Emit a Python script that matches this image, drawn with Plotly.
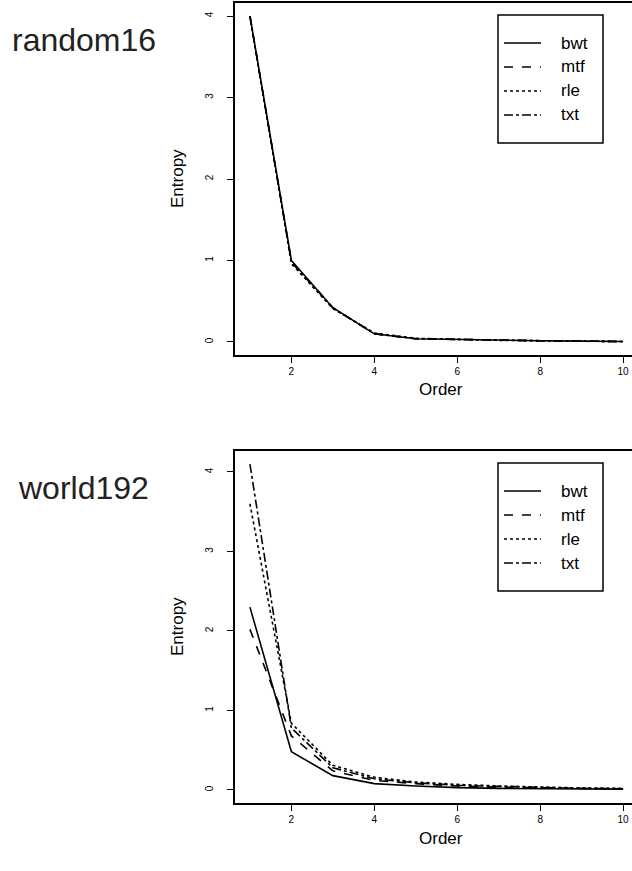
import plotly.graph_objects as go

orders = [1, 2, 3, 4, 5, 6, 7, 8, 9, 10]
series_names = ["bwt", "mtf", "rle", "txt"]

# random16
r16_bwt = [4.00, 1.00, 0.42, 0.10, 0.040, 0.030, 0.020, 0.015, 0.010, 0.005]
r16_mtf = [4.00, 0.99, 0.42, 0.10, 0.040, 0.030, 0.020, 0.015, 0.010, 0.005]
r16_rle = [4.00, 0.96, 0.41, 0.11, 0.045, 0.030, 0.020, 0.015, 0.010, 0.005]
r16_txt = [4.00, 0.98, 0.42, 0.10, 0.040, 0.030, 0.020, 0.015, 0.010, 0.005]

# world192
w192_bwt = [2.30, 0.48, 0.18, 0.08, 0.050, 0.030, 0.020, 0.015, 0.010, 0.010]
w192_mtf = [2.02, 0.68, 0.24, 0.12, 0.080, 0.050, 0.035, 0.025, 0.020, 0.015]
w192_rle = [3.60, 0.84, 0.31, 0.16, 0.100, 0.070, 0.050, 0.035, 0.025, 0.020]
w192_txt = [4.10, 0.78, 0.28, 0.14, 0.090, 0.060, 0.045, 0.030, 0.020, 0.015]

panel_titles = ["random16", "world192"]
x_ticks = [2, 4, 6, 8, 10]
y_ticks = [0, 1, 2, 3, 4]

W, H = 632, 871
FONT = "Liberation Sans, Arial, Helvetica, sans-serif"
dashes = ["solid", "dash", "dot", "dashdot"]

def px_x(p):
    return p / W

def px_y(p):
    return 1 - p / H

fig = go.Figure()

panels = [
    dict(data=[r16_bwt, r16_mtf, r16_rle, r16_txt], top=3, bottom=355, yr=[-0.16, 4.16], xa="x", ya="y"),
    dict(data=[w192_bwt, w192_mtf, w192_rle, w192_txt], top=451, bottom=803, yr=[-0.164, 4.264], xa="x2", ya="y2"),
]

annotations = []
shapes = []
for pi, p in enumerate(panels):
    for name, vals, d in zip(series_names, p["data"], dashes):
        fig.add_trace(go.Scatter(
            x=orders, y=vals, mode="lines", name=name, showlegend=False,
            line=dict(color="black", width=1.6, dash=d),
            xaxis=p["xa"], yaxis=p["ya"],
        ))
    sfx = "" if pi == 0 else "2"
    dom_y = [px_y(p["bottom"]), px_y(p["top"])]
    axis_common = dict(
        showgrid=False, zeroline=False, showline=True, linecolor="black", linewidth=1.5,
        ticks="outside", ticklen=6, tickwidth=1.2, tickcolor="black",
        tickfont=dict(family=FONT, size=10, color="black"),
    )
    fig.update_layout(**{
        "xaxis" + sfx: dict(axis_common, domain=[px_x(235), 1.0], range=[0.64, 10.215],
                            tickvals=x_ticks, mirror=True, ticklabelstandoff=0,
                            anchor="y" + sfx),
        "yaxis" + sfx: dict(axis_common, domain=dom_y, range=p["yr"], tickvals=y_ticks,
                            tickangle=-90, ticklabelstandoff=10, anchor="x" + sfx),
    })
    # panel label
    annotations.append(dict(text=panel_titles[pi], xref="paper", yref="paper",
                            x=px_x(84), y=px_y(p["top"] + 37), xanchor="center", yanchor="middle",
                            showarrow=False, font=dict(family=FONT, size=32, color="#222")))
    # axis titles
    annotations.append(dict(text="Entropy", xref="paper", yref="paper", textangle=-90,
                            x=px_x(177), y=px_y((p["top"] + p["bottom"]) / 2), xanchor="center", yanchor="middle",
                            showarrow=False, font=dict(family=FONT, size=17, color="black")))
    annotations.append(dict(text="Order", xref="paper", yref="paper",
                            x=px_x(441), y=px_y(p["bottom"] + 35), xanchor="center", yanchor="middle",
                            showarrow=False, font=dict(family=FONT, size=17, color="black")))
    # legend box
    lt = p["top"] + 12
    shapes.append(dict(type="rect", xref="paper", yref="paper",
                       x0=px_x(498), x1=px_x(603), y0=px_y(lt + 128), y1=px_y(lt),
                       line=dict(color="black", width=1.5), fillcolor="rgba(0,0,0,0)"))
    for i, (name, d) in enumerate(zip(series_names, dashes)):
        yy = lt + 28 + i * 24
        shapes.append(dict(type="line", xref="paper", yref="paper",
                           x0=px_x(504), x1=px_x(541), y0=px_y(yy), y1=px_y(yy),
                           line=dict(color="black", width=1.6, dash=d)))
        annotations.append(dict(text=name, xref="paper", yref="paper",
                                x=px_x(559), y=px_y(yy), xanchor="left", yanchor="middle",
                                showarrow=False, font=dict(family=FONT, size=17, color="black")))

fig.update_layout(
    width=W, height=H, margin=dict(l=0, r=0, t=0, b=0),
    paper_bgcolor="white", plot_bgcolor="white",
    showlegend=False, annotations=annotations, shapes=shapes,
)

fig.write_html("out.html")
